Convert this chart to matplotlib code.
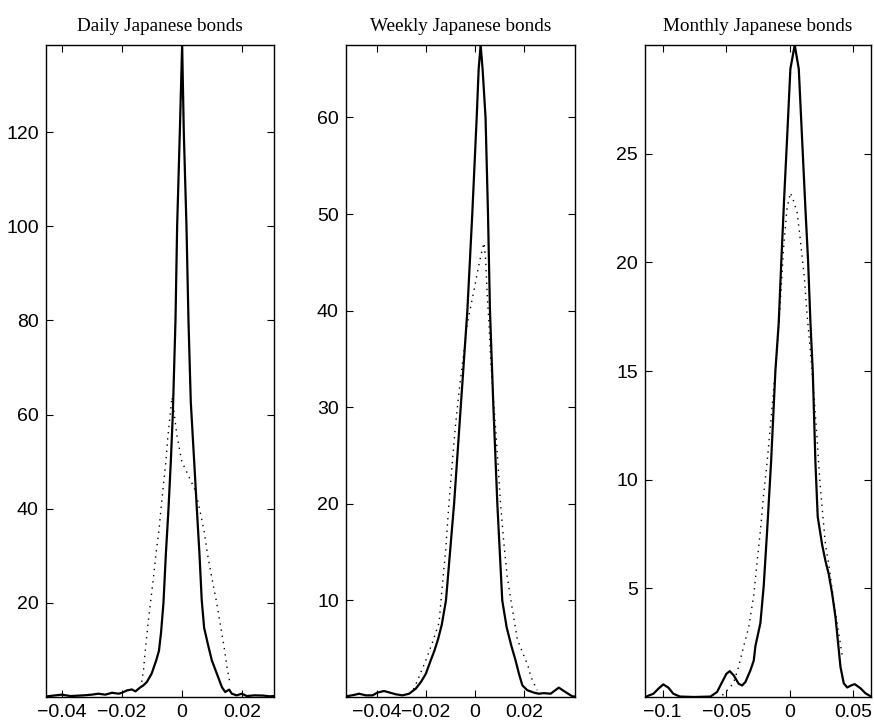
import numpy as np
import matplotlib
matplotlib.use("Agg")
import matplotlib.pyplot as plt

# ─────────────────────────────────────────────
# DATA
# solid = kernel density, dotted = reference density
# ─────────────────────────────────────────────
daily_kernel_x = [-0.0453, -0.0449, -0.0400, -0.0371, -0.0327, -0.0300, -0.0278, -0.0255,
                  -0.0233, -0.0211, -0.0200, -0.0183, -0.0167, -0.0155, -0.0140, -0.0128,
                  -0.0117, -0.0101, -0.0086, -0.0077, -0.0070, -0.0062, -0.0054, -0.00453,
                  -0.00376, -0.0031, -0.00221, -0.00166, -0.00077, 0.0, 0.00055, 0.00144,
                  0.0021, 0.00287, 0.0040, 0.00486, 0.00575, 0.0065, 0.0073, 0.0087,
                  0.00985, 0.0115, 0.0132, 0.0143, 0.0156, 0.0165, 0.0181, 0.0198,
                  0.0215, 0.0240, 0.0270, 0.0290, 0.0305]
daily_kernel_y = [0.1, 0.14, 0.5, 0.2, 0.35, 0.5, 0.7, 0.5,
                  0.9, 0.7, 0.9, 1.4, 1.6, 1.2, 2.0, 2.5,
                  3.2, 5.0, 7.8, 9.8, 13.7, 20.0, 30.4, 40.0,
                  50.0, 60.0, 80.0, 100.0, 120.0, 138.5, 120.0, 100.0,
                  80.0, 62.7, 50.0, 40.2, 30.4, 20.6, 14.7, 10.8,
                  7.8, 5.0, 2.1, 1.06, 1.56, 0.7, 0.35, 0.7,
                  0.2, 0.35, 0.3, 0.15, 0.2]

daily_normal_x = [-0.0134, -0.0128, -0.0121, -0.0113, -0.0104, -0.0095, -0.0087, -0.0077,
                  -0.0070, -0.0062, -0.0054, -0.0048, -0.0040, -0.0034, -0.0029, -0.0018,
                  -0.0001, 0.0021, 0.0043, 0.0057, 0.0073, 0.0084, 0.0098, 0.0113,
                  0.0126, 0.0139, 0.0150, 0.0159]
daily_normal_y = [3.2, 5.9, 10.8, 15.7, 20.6, 25.5, 30.4, 35.3,
                  40.2, 45.1, 50.0, 54.9, 59.8, 63.7, 61.7, 55.8,
                  50.0, 47.0, 44.0, 40.2, 35.3, 30.4, 25.5, 20.6,
                  15.7, 10.8, 5.9, 2.96]

weekly_kernel_x = [-0.0526, -0.0523, -0.0495, -0.0471, -0.0444, -0.0417, -0.0397, -0.0370,
                   -0.0322, -0.0295, -0.0268, -0.0241, -0.0220, -0.0200, -0.0180, -0.0165,
                   -0.0150, -0.0135, -0.0118, -0.0085, -0.0058, -0.0031, -0.0011, 0.0007,
                   0.0015, 0.0023, 0.0031, 0.0043, 0.0053, 0.0061, 0.0075, 0.0091,
                   0.0111, 0.0129, 0.0148, 0.0165, 0.0179, 0.0193, 0.0213, 0.0240,
                   0.0260, 0.0280, 0.0308, 0.0341, 0.0369, 0.0396, 0.0407]
weekly_kernel_y = [0.05, 0.07, 0.2, 0.34, 0.17, 0.17, 0.45, 0.62,
                   0.28, 0.17, 0.34, 0.86, 1.55, 2.4, 3.8, 4.8,
                   6.0, 7.5, 10.0, 20.0, 30.0, 40.0, 50.0, 60.0,
                   65.0, 67.5, 65.0, 60.0, 50.0, 40.0, 30.0, 20.0,
                   10.0, 7.2, 5.3, 3.8, 2.4, 1.2, 0.7, 0.45,
                   0.34, 0.4, 0.34, 0.97, 0.5, 0.07, 0.05]

weekly_normal_x = [-0.0250, -0.0234, -0.0200, -0.0175, -0.0146, -0.0133, -0.0119, -0.0106,
                   -0.0092, -0.0079, -0.0065, -0.0051, -0.0031, -0.0004, 0.0014, 0.0030,
                   0.0037, 0.0043, 0.0050, 0.0057, 0.0064, 0.0073, 0.0084, 0.0093,
                   0.0104, 0.0118, 0.0131, 0.0152, 0.0172, 0.0195, 0.0215, 0.0226,
                   0.0240, 0.0253]
weekly_normal_y = [0.8, 1.7, 3.8, 5.5, 7.7, 11.5, 15.3, 20.0,
                   24.4, 28.2, 31.6, 34.5, 38.7, 42.1, 44.5, 46.4,
                   47.0, 45.4, 41.6, 38.7, 34.9, 31.6, 27.8, 24.4,
                   20.0, 15.8, 12.5, 9.1, 6.0, 4.5, 3.3, 2.2,
                   1.4, 0.7]

monthly_kernel_x = [-0.1139, -0.1073, -0.1034, -0.0995, -0.0955, -0.0916, -0.0864, -0.0750,
                    -0.0624, -0.0572, -0.0532, -0.0498, -0.0472, -0.0440, -0.0402, -0.0375,
                    -0.0349, -0.0310, -0.0283, -0.0270, -0.0231, -0.0205, -0.0178, -0.0147,
                    -0.0113, -0.0087, -0.0066, -0.0042, -0.0021, 0.0005, 0.0039, 0.0071,
                    0.0097, 0.0123, 0.0144, 0.0163, 0.0181, 0.0202, 0.0220, 0.0255,
                    0.0281, 0.0307, 0.0334, 0.0360, 0.0381, 0.0399, 0.0425, 0.0452,
                    0.0490, 0.0512, 0.0557, 0.0596, 0.0637]
monthly_kernel_y = [0.0, 0.15, 0.38, 0.58, 0.43, 0.15, 0.02, 0.0,
                    0.02, 0.23, 0.69, 1.07, 1.19, 0.99, 0.61, 0.53,
                    0.69, 1.22, 1.68, 2.35, 3.4, 5.1, 7.65, 10.8,
                    15.0, 17.2, 20.1, 23.2, 25.7, 28.9, 30.0, 28.9,
                    25.7, 22.5, 20.1, 17.2, 15.0, 10.8, 8.3, 7.0,
                    6.26, 5.65, 4.74, 3.67, 2.45, 1.39, 0.63, 0.44,
                    0.55, 0.59, 0.4, 0.17, 0.03]

monthly_normal_x = [-0.0530, -0.0467, -0.0440, -0.0402, -0.0362, -0.0323, -0.0283, -0.0257,
                    -0.0231, -0.0205, -0.0178, -0.0152, -0.0126, -0.0100, -0.0073, -0.0047,
                    -0.0021, 0.0005, 0.0026, 0.0058, 0.0084, 0.0115, 0.0136, 0.0163,
                    0.0189, 0.0215, 0.0236, 0.0255, 0.0281, 0.0307, 0.0342, 0.0373,
                    0.0413]
monthly_normal_y = [0.08, 0.46, 0.69, 1.4, 2.35, 3.2, 4.7, 6.2,
                    7.65, 9.35, 10.8, 12.5, 14.2, 15.9, 18.3, 20.8,
                    22.5, 23.2, 22.9, 22.3, 21.0, 19.3, 17.6, 15.9,
                    14.0, 11.9, 10.0, 8.7, 7.0, 6.1, 4.6, 3.4,
                    1.9]

titles  = ["Daily Japanese bonds", "Weekly Japanese bonds", "Monthly Japanese bonds"]
xticks  = [[-0.04, -0.02, 0, 0.02], [-0.04, -0.02, 0, 0.02], [-0.1, -0.05, 0, 0.05]]
xlabels = [["\u22120.04", "\u22120.02", "0", "0.02"],
           ["\u22120.04", "\u22120.02", "0", "0.02"],
           ["\u22120.1", "\u22120.05", "0", "0.05"]]
yticks  = [[20, 40, 60, 80, 100, 120], [10, 20, 30, 40, 50, 60], [5, 10, 15, 20, 25]]
xlims   = [(-0.0453, 0.0305), (-0.0526, 0.0407), (-0.1139, 0.0637)]
ylims   = [(0, 138.5), (0, 67.5), (0, 30.0)]

# ─────────────────────────────────────────────
# LAYOUT
# ─────────────────────────────────────────────
W, H = 874, 724
boxes = [(45.7, 274.0), (345.7, 575.0), (645.0, 870.7)]   # left/right px
TOP_PX, BOTTOM_PX = 45, 697

plt.rcParams["font.family"] = ["Liberation Sans", "DejaVu Sans"]
fig = plt.figure(figsize=(W / 100, H / 100), dpi=100)

series = [
    (daily_kernel_x, daily_kernel_y, daily_normal_x, daily_normal_y),
    (weekly_kernel_x, weekly_kernel_y, weekly_normal_x, weekly_normal_y),
    (monthly_kernel_x, monthly_kernel_y, monthly_normal_x, monthly_normal_y),
]

for i, (kx, ky, nx, ny) in enumerate(series):
    left, right = boxes[i]
    ax = fig.add_axes([left / W, (H - BOTTOM_PX) / H,
                       (right - left) / W, (BOTTOM_PX - TOP_PX) / H])

    ax.plot(nx, ny, color="black", linestyle=(0, (1, 3.5)), linewidth=1.0)
    ax.plot(kx, ky, color="black", linestyle="-", linewidth=1.6)

    ax.set_xlim(*xlims[i])
    ax.set_ylim(*ylims[i])
    ax.set_xticks(xticks[i])
    ax.set_xticklabels(xlabels[i])
    ax.set_yticks(yticks[i])

    ax.tick_params(direction="in", top=True, right=True, length=5,
                   width=0.8, labelsize=14, pad=5)
    for sp in ax.spines.values():
        sp.set_linewidth(1.0)

    ax.set_title(titles[i], fontsize=13.8, family=["Liberation Serif", "DejaVu Serif"], pad=10)

fig.savefig("out.png", dpi=100)
